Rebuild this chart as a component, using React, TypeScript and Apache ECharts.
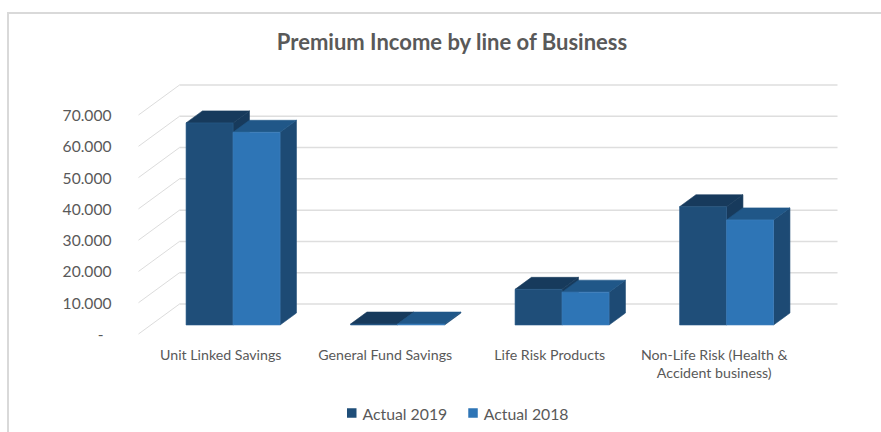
import React, { useEffect, useRef } from "react";
import * as echarts from "echarts";

const categories = [
  "Unit Linked Savings",
  "General Fund Savings",
  "Life Risk Products",
  "Non-Life Risk (Health &\nAccident business)",
];
const actual2019 = [64600, 300, 11400, 37800];
const actual2018 = [61600, 300, 10500, 33600];
const gridTicks = [0, 10000, 20000, 30000, 40000, 50000, 60000, 70000];

// Oblique projection of the 3D column look: depth of the floor in pixels.
const DEPTH_X = 41;
const DEPTH_Y = -30;
const BAR_NEAR = 0.3;
const BAR_FAR = 0.7;
const BAR_WIDTH = 0.2857;

const shift = (p: number[], t: number) => [p[0] + DEPTH_X * t, p[1] + DEPTH_Y * t];

const column3d = (
  seriesSide: number,
  values: number[],
  colors: { front: string; edge: string; top: string; side: string }
) =>
  (params: any, api: any) => {
    const cat = api.value(0);
    const val = values[cat];
    const center = api.coord([cat, 0]);
    const bandWidth = api.size([1, 0])[0];
    const barW = bandWidth * BAR_WIDTH;
    const x0 = center[0] + (seriesSide < 0 ? -barW : 0);
    const x1 = x0 + barW;
    const yBase = center[1];
    const yTop = api.coord([cat, val])[1];
    const a = shift([x0, yBase], BAR_NEAR);
    const b = shift([x1, yBase], BAR_NEAR);
    const c = shift([x1, yTop], BAR_NEAR);
    const d = shift([x0, yTop], BAR_NEAR);
    const b2 = shift([x1, yBase], BAR_FAR);
    const c2 = shift([x1, yTop], BAR_FAR);
    const d2 = shift([x0, yTop], BAR_FAR);
    const poly = (points: number[][], fill: string, stroke: string) => ({
      type: "polygon",
      shape: { points },
      style: { fill, stroke, lineWidth: 0.6 },
    });
    return {
      type: "group",
      children: [
        poly([b, b2, c2, c], colors.side, colors.side),
        poly([d, c, c2, d2], colors.top, colors.top),
        poly([a, b, c, d], colors.front, colors.edge),
      ],
    };
  };

// Back wall lines and the diagonal floor runs towards the value labels.
const renderGridLine = (params: any, api: any) => {
  const val = api.value(0);
  const front = api.coord([0, val]);
  const left = [params.coordSys.x, front[1]];
  const back = shift(left, 1);
  const end = [params.coordSys.x + params.coordSys.width + DEPTH_X, back[1]];
  return {
    type: "group",
    children: [
      {
        type: "line",
        shape: { x1: left[0], y1: left[1], x2: back[0], y2: back[1] },
        style: { stroke: "#dcdcdc", lineWidth: 1, fill: "none" },
      },
      {
        type: "line",
        shape: { x1: back[0], y1: back[1], x2: end[0], y2: end[1] },
        style: { stroke: "#dedede", lineWidth: 1.5, fill: "none" },
      },
    ],
  };
};

const formatTick = (v: number) => (v === 0 ? "-  " : (v / 1000).toFixed(3));

export default function App() {
  const ref = useRef<HTMLDivElement>(null);
  useEffect(() => {
    const chart = echarts.init(ref.current!, undefined, { renderer: "svg" });
    const catIndex = categories.map((_, i) => [i]);
    chart.setOption({
      animation: false,
      backgroundColor: "#ffffff",
      textStyle: { fontFamily: "Lato" },
      title: {
        text: "Premium Income by line of Business",
        left: 447,
        top: 25,
        textAlign: "center",
        textStyle: { fontFamily: "Lato", fontSize: 22, fontWeight: "bold", color: "#595959" },
      },
      legend: {
        data: ["Actual 2019", "Actual 2018"],
        left: 342,
        top: 400,
        icon: "rect",
        itemWidth: 9.5,
        itemHeight: 9.5,
        itemGap: 21,
        textStyle: { fontFamily: "Lato", fontSize: 15.8, color: "#595959", padding: [0, 0, 0, 1] },
      },
      grid: { left: 138.5, top: 115, width: 658, height: 219 },
      xAxis: {
        type: "category",
        data: categories,
        axisLine: { show: false },
        axisTick: { show: false },
        splitLine: { show: false },
        axisLabel: {
          interval: 0,
          margin: 11,
          fontFamily: "Lato",
          fontSize: 14.2,
          lineHeight: 18,
          color: "#595959",
        },
      },
      yAxis: {
        type: "value",
        min: 0,
        max: 70000,
        interval: 10000,
        axisLine: { show: false },
        axisTick: { show: false },
        splitLine: { show: false },
        axisLabel: {
          margin: 27,
          fontFamily: "Lato",
          fontSize: 15.6,
          color: "#595959",
          formatter: formatTick,
        },
      },
      graphic: [
        {
          type: "rect",
          silent: true,
          shape: { x: 8, y: 13, width: 880, height: 430 },
          style: { fill: "none", stroke: "#d9d9d9", lineWidth: 2 },
        },
      ],
      series: [
        {
          type: "custom",
          name: "grid",
          silent: true,
          coordinateSystem: "cartesian2d",
          encode: { y: 0 },
          data: gridTicks.map((v) => [v]),
          renderItem: renderGridLine,
          z: 1,
        },
        {
          type: "custom",
          name: "Actual 2019",
          coordinateSystem: "cartesian2d",
          encode: { x: 0 },
          data: catIndex,
          itemStyle: { color: "#1f4e79" },
          renderItem: column3d(-1, actual2019, {
            front: "#1f4e79",
            edge: "#2a5c8b",
            top: "#173a5c",
            side: "#173a5c",
          }),
          z: 2,
        },
        {
          type: "custom",
          name: "Actual 2018",
          coordinateSystem: "cartesian2d",
          encode: { x: 0 },
          data: catIndex,
          itemStyle: { color: "#2e75b6" },
          renderItem: column3d(1, actual2018, {
            front: "#2e75b6",
            edge: "#3f82c0",
            top: "#205788",
            side: "#1d4a74",
          }),
          z: 3,
        },
      ],
    });
    return () => chart.dispose();
  }, []);
  return (
    <div
      ref={ref}
      style={{ position: "absolute", left: 0, top: 0, width: 881, height: 432, background: "#fff" }}
    />
  );
}
